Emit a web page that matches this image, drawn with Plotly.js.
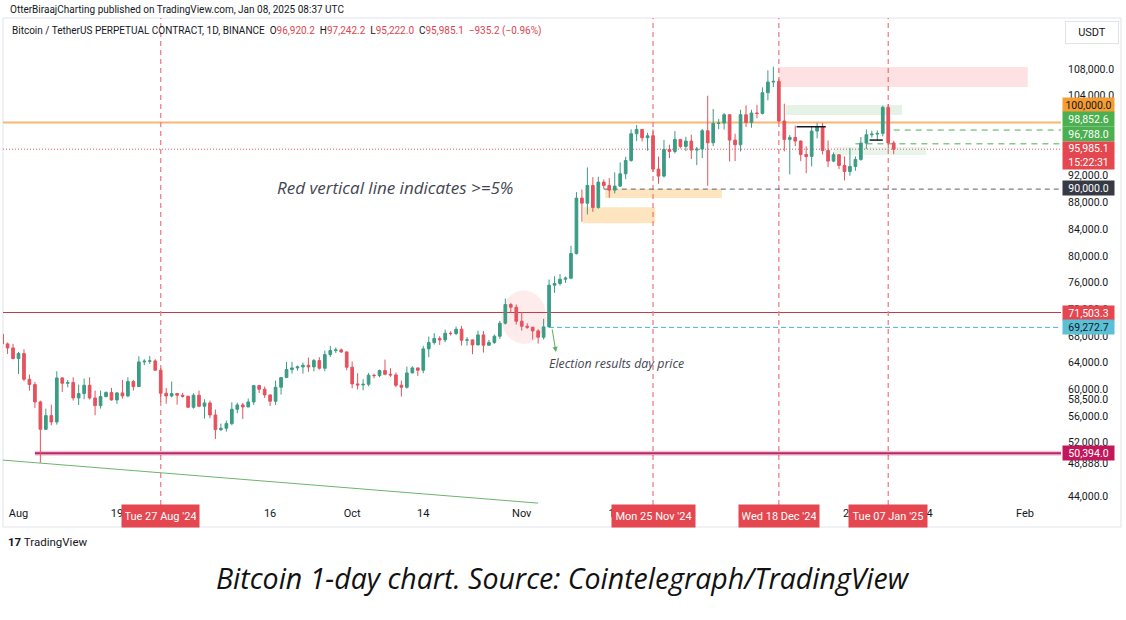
<!DOCTYPE html>
<html>
<head>
<meta charset="utf-8">
<script src="https://cdn.plot.ly/plotly-3.0.1.min.js"></script>
<style>
html,body{margin:0;padding:0;background:#fff;}
#chart{width:1126px;height:620px;}
</style>
</head>
<body>
<div id="chart"></div>
<script>
// ---------- DATA ----------
const dates = [
"2024-07-29","2024-07-30","2024-07-31",
"2024-08-01","2024-08-02","2024-08-03","2024-08-04","2024-08-05","2024-08-06","2024-08-07","2024-08-08","2024-08-09","2024-08-10",
"2024-08-11","2024-08-12","2024-08-13","2024-08-14","2024-08-15","2024-08-16","2024-08-17","2024-08-18","2024-08-19","2024-08-20",
"2024-08-21","2024-08-22","2024-08-23","2024-08-24","2024-08-25","2024-08-26","2024-08-27","2024-08-28","2024-08-29","2024-08-30","2024-08-31",
"2024-09-01","2024-09-02","2024-09-03","2024-09-04","2024-09-05","2024-09-06","2024-09-07","2024-09-08","2024-09-09","2024-09-10",
"2024-09-11","2024-09-12","2024-09-13","2024-09-14","2024-09-15","2024-09-16","2024-09-17","2024-09-18","2024-09-19","2024-09-20",
"2024-09-21","2024-09-22","2024-09-23","2024-09-24","2024-09-25","2024-09-26","2024-09-27","2024-09-28","2024-09-29","2024-09-30",
"2024-10-01","2024-10-02","2024-10-03","2024-10-04","2024-10-05","2024-10-06","2024-10-07","2024-10-08","2024-10-09","2024-10-10",
"2024-10-11","2024-10-12","2024-10-13","2024-10-14","2024-10-15","2024-10-16","2024-10-17","2024-10-18","2024-10-19","2024-10-20",
"2024-10-21","2024-10-22","2024-10-23","2024-10-24","2024-10-25","2024-10-26","2024-10-27","2024-10-28","2024-10-29","2024-10-30","2024-10-31",
"2024-11-01","2024-11-02","2024-11-03","2024-11-04","2024-11-05","2024-11-06","2024-11-07","2024-11-08","2024-11-09","2024-11-10",
"2024-11-11","2024-11-12","2024-11-13","2024-11-14","2024-11-15","2024-11-16","2024-11-17","2024-11-18","2024-11-19","2024-11-20",
"2024-11-21","2024-11-22","2024-11-23","2024-11-24","2024-11-25","2024-11-26","2024-11-27","2024-11-28","2024-11-29","2024-11-30",
"2024-12-01","2024-12-02","2024-12-03","2024-12-04","2024-12-05","2024-12-06","2024-12-07","2024-12-08","2024-12-09","2024-12-10",
"2024-12-11","2024-12-12","2024-12-13","2024-12-14","2024-12-15","2024-12-16","2024-12-17","2024-12-18","2024-12-19","2024-12-20",
"2024-12-21","2024-12-22","2024-12-23","2024-12-24","2024-12-25","2024-12-26","2024-12-27","2024-12-28","2024-12-29","2024-12-30","2024-12-31",
"2025-01-01","2025-01-02","2025-01-03","2025-01-04","2025-01-05","2025-01-06","2025-01-07","2025-01-08"
];
const closes = [
66800,66200,64600,
65350,61500,60700,58100,54000,56050,55100,61700,60900,61000,58700,59350,60600,58700,57550,58900,59500,58400,59450,59000,61150,60400,64100,64200,64250,62850,59400,59000,59350,59100,58950,
57300,59100,57450,57950,56150,53950,54150,54850,57000,57650,57350,58100,60550,60000,59150,58200,60300,61750,62950,63200,63350,63600,63350,64300,63150,65200,65800,65900,65600,63300,
60800,60650,60750,62100,62050,62800,62250,62150,60600,60300,62450,63200,62850,66050,67000,67600,67400,68400,68350,69000,67350,67400,66650,68150,66600,67000,67950,69900,72700,72300,70200,
69450,69300,68750,67800,69350,75600,75850,76500,76650,80350,88650,87900,90550,87250,91050,90550,89850,90450,92300,94300,98300,98950,97700,98000,93000,91950,95950,95650,97450,96400,
97200,95850,96000,98750,96950,99850,99900,101150,97350,96650,101150,100000,101400,101350,104450,106050,106150,100200,97450,97750,97200,95200,94900,98700,99400,95800,94200,95150,93550,92650,93400,
94450,96900,98150,98250,98350,102250,96920.2,95985.1
];
const opens = [
68250,66800,66200,
64600,65350,61500,60700,58100,54000,56050,55100,61700,60900,61000,58700,59350,60600,58700,57550,58900,59500,58400,59450,59000,61150,60400,64100,64200,64250,62850,59400,59000,59350,59100,
58950,57300,59100,57450,57950,56150,53950,54150,54850,57000,57650,57350,58100,60550,60000,59150,58200,60300,61750,62950,63200,63350,63600,63350,64300,63150,65200,65800,65900,65600,
63300,60800,60650,60750,62100,62050,62800,62250,62150,60600,60300,62450,63200,62850,66050,67000,67600,67400,68400,68350,69000,67350,67400,66650,68150,66600,67000,67950,69900,72700,72300,
70200,69450,69300,68750,67800,69350,75600,75850,76500,76650,80350,88650,87900,90550,87250,91050,90550,89850,90450,92300,94300,98300,98950,97700,98000,93000,91950,95950,95650,97450,
96400,97200,95850,96000,98750,96950,99850,99900,101150,97350,96650,101150,100000,101400,101350,104450,106050,106150,100200,97450,97750,97200,95200,94900,98700,99400,95800,94200,95150,93550,92650,
93400,94450,96900,98150,98250,98350,102250,96920.2
];
const highs = [
70000,67000,66800,
65600,66000,62200,61100,58300,57100,57700,62700,61800,61400,61800,60700,61600,61800,59800,59800,59700,60200,59600,61400,61800,61400,64950,64500,65000,64500,63200,60200,61150,59400,59450,
59050,59400,59800,58500,58300,56950,54850,55300,58050,58000,57950,58600,60650,60650,60400,59200,61300,61800,64100,64100,63550,64000,64750,64550,64800,65800,66500,66250,66100,65650,
64150,62400,61500,62450,62350,62950,64450,63150,62500,61300,63400,63450,63250,66500,67900,68400,67950,68950,68700,69400,69500,67800,67450,68800,68750,67400,68200,70250,73600,72950,72700,
71600,69900,69350,69000,70550,76450,76950,77250,76900,81500,89550,89950,93250,91800,91850,91450,91650,92500,94000,94850,98950,99600,99000,98450,98950,94900,97350,96650,98700,97500,
97850,98150,96300,99000,104000,102000,100500,101400,101200,98300,101900,102550,101900,102650,105250,107800,108350,106500,102800,98100,99500,97300,96400,99400,99950,99900,97300,95500,95200,94900,96150,
94900,97800,98950,98750,98800,102500,102700,97242.2
];
const lows = [
66450,65300,64500,
62300,61200,59800,57200,49000,53900,54600,54700,59600,60300,58300,57650,58500,58450,56100,57100,58800,58300,57800,58600,58800,59800,60350,63600,63800,62800,58100,57850,58800,57700,58750,
57200,57100,57400,55600,55650,52550,53750,53650,54600,56400,55550,57300,57650,59450,58700,57500,57650,59200,61700,62350,62800,62350,62600,62700,62950,62700,64850,65450,65450,62850,
60150,59950,59850,60450,61650,61800,62100,61850,60300,58900,60100,62400,62000,62400,64800,66700,66650,67050,68050,68100,66550,66550,65250,66550,65500,66550,66800,67550,69700,71450,69700,
68800,69050,67450,66850,67450,69350,74450,75550,75950,76500,80200,85100,86200,86600,87050,90050,88700,89350,90350,91500,94100,97200,97150,95750,92600,90800,91750,94650,95350,96100,
95700,94500,93600,94650,90500,96450,99000,98950,94150,94200,95650,99300,99200,100600,101200,103300,105300,100000,95650,92200,96450,94200,92400,93400,97600,95200,93300,94050,93000,91300,92000,
92750,94250,96000,97750,97250,97900,96100,95222
];

// key price levels (labels on price scale)
const levelValues = [100000, 98852.6, 96788.0, 95985.1, 90000, 71503.3, 69272.7, 50394.0];
const levelTexts  = ["100,000.0","98,852.6","96,788.0","95,985.1<br>15:22:31","90,000.0","71,503.3","69,272.7","50,394.0"];

// vertical event dates (>=5% moves)
const eventDates  = ["2024-08-27","2024-11-25","2024-12-18","2025-01-07"];
const eventLabels = ["Tue 27 Aug '24","Mon 25 Nov '24","Wed 18 Dec '24","Tue 07 Jan '25"];

// axis ticks
const xTickVals = ["2024-08-01","2024-08-19","2024-09-01","2024-09-16","2024-10-01","2024-10-14","2024-11-01","2024-11-18","2024-12-01","2024-12-16","2025-01-01","2025-01-14","2025-02-01"];
const xTickText = ["Aug","19","Sep","16","Oct","14","Nov","18","Dec","16","2025","14","Feb"];
const yTickVals = [44000,48888,52000,56000,58500,60000,64000,68000,72000,76000,80000,84000,88000,92000,104000,108000];
const yTickText = ["44,000.0","48,888.0","52,000.0","56,000.0","58,500.0","60,000.0","64,000.0","68,000.0","72,000.0","76,000.0","80,000.0","84,000.0","88,000.0","92,000.0","104,000.0","108,000.0"];

// ---------- STYLE ----------
const UP = "#3b9c84", DOWN = "#e5525d";
const FONT = "Roboto, 'Noto Sans', sans-serif";
const px = v => (v - 3) / 1058;      // page px -> paper x
const py = v => (505 - v) / 487;     // page px -> paper y
const eventBoxWidths = [71, 77, 74, 72];

const trace = {
  type: "candlestick",
  x: dates, open: opens, high: highs, low: lows, close: closes,
  increasing: {line: {color: UP, width: 1}, fillcolor: UP},
  decreasing: {line: {color: DOWN, width: 1}, fillcolor: DOWN},
  whiskerwidth: 0,
  hoverinfo: "skip",
  showlegend: false
};

const shapes = [];
// chart frame
shapes.push({type:"rect", xref:"paper", yref:"paper", x0:px(3), x1:px(1121), y0:py(527), y1:py(18),
  line:{color:"#e0e3eb", width:1}, fillcolor:"rgba(0,0,0,0)", layer:"below"});
// zones
shapes.push({type:"rect", xref:"x", yref:"y", x0:"2024-12-18", x1:"2025-02-01 12:00", y0:105300, y1:108300,
  line:{width:0}, fillcolor:"rgba(242,54,69,0.15)", layer:"below"});
shapes.push({type:"rect", xref:"x", yref:"y", x0:"2024-12-19 06:00", x1:"2025-01-09 12:00", y0:101100, y1:102600,
  line:{width:0}, fillcolor:"rgba(76,175,80,0.15)", layer:"below"});
shapes.push({type:"rect", xref:"x", yref:"y", x0:"2024-12-28", x1:"2025-01-14", y0:95100, y1:96300,
  line:{width:0}, fillcolor:"rgba(76,175,80,0.12)", layer:"below"});
shapes.push({type:"rect", xref:"x", yref:"y", x0:"2024-11-16 06:00", x1:"2024-12-07 14:00", y0:88650, y1:90000,
  line:{width:0}, fillcolor:"rgba(255,152,0,0.25)", layer:"below"});
shapes.push({type:"rect", xref:"x", yref:"y", x0:"2024-11-12 06:00", x1:"2024-11-25 10:00", y0:84900, y1:87300,
  line:{width:0}, fillcolor:"rgba(255,152,0,0.25)", layer:"below"});
shapes.push({type:"circle", xref:"x", yref:"y", x0:"2024-10-28 06:00", x1:"2024-11-05 12:00", y0:66800, y1:74800,
  line:{width:0}, fillcolor:"rgba(242,54,69,0.10)", layer:"below"});
// horizontal levels
shapes.push({type:"line", xref:"paper", yref:"y", x0:0, x1:1, y0:100000, y1:100000, line:{color:"#f7b675", width:2}, layer:"below"});
shapes.push({type:"line", xref:"paper", yref:"y", x0:0, x1:1, y0:71503.3, y1:71503.3, line:{color:"#c23b46", width:1}, layer:"below"});
shapes.push({type:"line", xref:"paper", yref:"y", x0:0, x1:1, y0:95985.1, y1:95985.1, line:{color:"#e35b66", width:1, dash:"1px,2px"}, layer:"below"});
shapes.push({type:"line", xref:"x", yref:"y", x0:"2024-08-04", x1:"2025-03-01", y0:50394, y1:50394, line:{color:"rgba(194,24,91,0.25)", width:5}, layer:"below"});
shapes.push({type:"line", xref:"x", yref:"y", x0:"2024-08-04", x1:"2025-03-01", y0:50394, y1:50394, line:{color:"#b8266a", width:2}, layer:"below"});
shapes.push({type:"line", xref:"x", yref:"y", x0:"2024-11-06", x1:"2025-03-01", y0:69272.7, y1:69272.7, line:{color:"#46b0d4", width:1, dash:"5px,3px"}, layer:"below"});
shapes.push({type:"line", xref:"x", yref:"y", x0:"2024-11-16", x1:"2025-03-01", y0:90000, y1:90000, line:{color:"#5d606b", width:1, dash:"5px,4px"}, layer:"below"});
shapes.push({type:"line", xref:"x", yref:"y", x0:"2025-01-08", x1:"2025-03-01", y0:98852.6, y1:98852.6, line:{color:"#4caf50", width:1, dash:"6px,5px"}, layer:"below"});
shapes.push({type:"line", xref:"x", yref:"y", x0:"2025-01-01", x1:"2025-03-01", y0:96788, y1:96788, line:{color:"#4caf50", width:1, dash:"6px,5px"}, layer:"below"});
// black brackets
shapes.push({type:"line", xref:"x", yref:"y", x0:"2024-12-21 06:00", x1:"2024-12-26 14:00", y0:99350, y1:99350, line:{color:"#131722", width:1.5}});
shapes.push({type:"line", xref:"x", yref:"y", x0:"2025-01-03 14:00", x1:"2025-01-06", y0:97350, y1:97350, line:{color:"#131722", width:1.5}});
// green trendline
shapes.push({type:"line", xref:"x", yref:"y", x0:"2024-07-29 04:00", x1:"2024-11-04", y0:49380, y1:42930, line:{color:"#6cb56c", width:1}, layer:"below"});
// vertical event lines
eventDates.forEach(d => shapes.push({type:"line", xref:"x", yref:"paper", x0:d, x1:d, y0:0, y1:1,
  line:{color:"#ef7f89", width:1.3, dash:"5px,4px"}, layer:"below"}));

const annotations = [];
annotations.push({xref:"paper", yref:"paper", x:px(8), y:py(10), xanchor:"left", yanchor:"middle", showarrow:false,
  text:"OtterBiraajCharting published on TradingView.com, Jan 08, 2025 08:37 UTC", font:{family:FONT, size:10, color:"#131722"}});
const R = "#e0454f";
annotations.push({xref:"paper", yref:"paper", x:px(10), y:py(31), xanchor:"left", yanchor:"middle", showarrow:false,
  text:"Bitcoin / TetherUS PERPETUAL CONTRACT, 1D, BINANCE  O<span style='color:"+R+"'>96,920.2</span>  H<span style='color:"+R+"'>97,242.2</span>  L<span style='color:"+R+"'>95,222.0</span>  C<span style='color:"+R+"'>95,985.1</span>  <span style='color:"+R+"'>−935.2 (−0.96%)</span>",
  font:{family:FONT, size:10, color:"#131722"}});
annotations.push({xref:"paper", yref:"paper", x:px(1092), y:py(33), xanchor:"center", yanchor:"middle", showarrow:false,
  text:"USDT", font:{family:FONT, size:11, color:"#131722"}, bordercolor:"#e0e3eb", borderwidth:1, borderpad:4, bgcolor:"#fff", width:44, height:13});
annotations.push({xref:"paper", yref:"paper", x:px(275), y:py(187), xanchor:"left", yanchor:"middle", showarrow:false,
  text:"<i>Red vertical line indicates >=5%</i>", font:{family:"'Open Sans', sans-serif", size:17, color:"#434651"}});
annotations.push({xref:"paper", yref:"paper", x:px(547), y:py(363), xanchor:"left", yanchor:"middle", showarrow:false,
  text:"<i>Election results day price</i>", font:{family:"'Open Sans', sans-serif", size:12.4, color:"#434651"}});
// arrow
annotations.push({xref:"x", yref:"y", x:"2024-11-07 06:00", y:65600, ax:-4, ay:-24, showarrow:true, arrowhead:2, arrowsize:1, arrowwidth:1,
  arrowcolor:"#5cae5c", text:""});
annotations.push({xref:"paper", yref:"paper", x:px(6), y:py(542), xanchor:"left", yanchor:"middle", showarrow:false,
  text:"<b>17</b> TradingView", font:{family:FONT, size:11.5, color:"#131722"}});
annotations.push({xref:"paper", yref:"paper", x:px(563), y:py(578), xanchor:"center", yanchor:"middle", showarrow:false,
  text:"<i>Bitcoin 1-day chart. Source: Cointelegraph/TradingView</i>", font:{family:"'Open Sans', sans-serif", size:28.5, color:"#111111"}});
// event labels on time axis
eventDates.forEach((d,i) => annotations.push({xref:"x", yref:"paper", x:d, y:py(516), xanchor:"center", yanchor:"middle", showarrow:false,
  text:eventLabels[i], font:{family:FONT, size:11, color:"#ffffff"}, bgcolor:"#e4474f", borderpad:3, width:eventBoxWidths[i], height:16}));
// price scale labels
const labelStyle = [
  {bg:"#f59d32", fg:"#131722", shift:17},
  {bg:"#4caf50", fg:"#ffffff", shift:11},
  {bg:"#4caf50", fg:"#ffffff", shift:10},
  {bg:"#e4474f", fg:"#ffffff", shift:-6, two:true},
  {bg:"#363a45", fg:"#ffffff", shift:1},
  {bg:"#e4474f", fg:"#ffffff", shift:0},
  {bg:"#5bbfd6", fg:"#131722", shift:0},
  {bg:"#c2185b", fg:"#ffffff", shift:0}
];
levelValues.forEach((v,i) => {
  const s = labelStyle[i];
  annotations.push({xref:"paper", yref:"y", x:px(1062), y:v, xanchor:"left", yanchor:"middle", yshift:s.shift, showarrow:false,
    text:levelTexts[i], font:{family:FONT, size:10.5, color:s.fg}, bgcolor:s.bg, borderpad:1.5, width:48, height:s.two?24:11, align:"center"});
});

const layout = {
  width:1126, height:620,
  margin:{l:3, r:65, t:18, b:115},
  paper_bgcolor:"#ffffff", plot_bgcolor:"#ffffff",
  showlegend:false,
  xaxis:{type:"date", range:["2024-07-29 04:00","2025-02-07 14:00"], rangeslider:{visible:false},
    showgrid:false, zeroline:false, showline:false, ticks:"", tickvals:xTickVals, ticktext:xTickText,
    tickfont:{family:FONT, size:11, color:"#131722"}, fixedrange:true},
  yaxis:{range:[42650,115650], side:"right", showgrid:false, zeroline:false, showline:false, ticks:"",
    tickvals:yTickVals, ticktext:yTickText, ticklabelstandoff:6,
    tickfont:{family:FONT, size:10.5, color:"#131722"}, fixedrange:true},
  shapes:shapes, annotations:annotations,
  hovermode:false
};

Plotly.newPlot("chart", [trace], layout, {displayModeBar:false, staticPlot:true});
</script>
</body>
</html>
